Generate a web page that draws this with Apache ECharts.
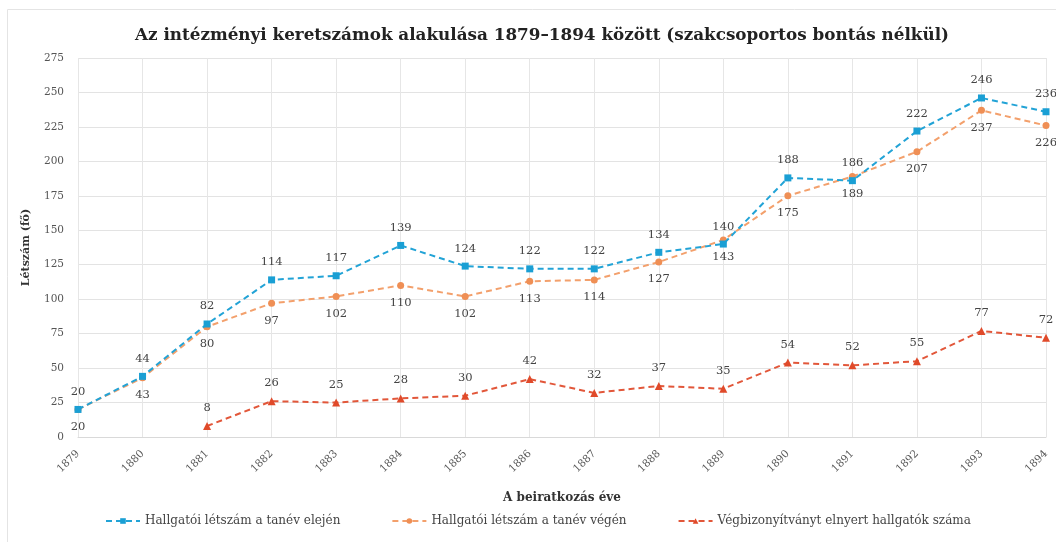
<!DOCTYPE html>
<html>
<head>
<meta charset="utf-8">
<script src="https://cdn.jsdelivr.net/npm/echarts@6/dist/echarts.min.js"></script>
<style>html,body{margin:0;padding:0;background:#fff;}#c{width:1056px;height:542px;}</style>
</head>
<body>
<div id="c"></div>
<script>
const years = ['1879','1880','1881','1882','1883','1884','1885','1886','1887','1888','1889','1890','1891','1892','1893','1894'];
const startVals = [20,44,82,114,117,139,124,122,122,134,140,188,186,222,246,236];
const endVals = [20,43,80,97,102,110,102,113,114,127,143,175,189,207,237,226];
const gradVals = [null,null,8,26,25,28,30,42,32,37,35,54,52,55,77,72];
const yTicks = [0,25,50,75,100,125,150,175,200,225,250,275];
const names = ['Hallgatói létszám a tanév elején','Hallgatói létszám a tanév végén','Végbizonyítványt elnyert hallgatók száma'];

const font = "'DejaVu Serif','Liberation Serif',serif";
const chart = echarts.init(document.getElementById('c'));
const lbl = pos => ({show:true, position:pos, distance:8, color:'#444', fontFamily:font, fontSize:11.5});
chart.setOption({
  animation:false,
  textStyle:{fontFamily:font},
  title:{text:'Az intézményi keretszámok alakulása 1879–1894 között (szakcsoportos bontás nélkül)', left:130, top:22,
    textStyle:{fontFamily:font, fontSize:16.8, fontWeight:'bold', color:'#222'}},
  graphic:[{type:'rect', shape:{x:7.5,y:9.5,width:1060,height:540}, style:{fill:'none', stroke:'#e4e4e4', lineWidth:1}, silent:true}],
  grid:{left:78, right:10, top:58, bottom:105},
  legend:{bottom:10, left:100, itemGap:51, itemWidth:34, itemHeight:7,
    textStyle:{fontFamily:font, fontSize:12, color:'#444'}, data:names},
  xAxis:{type:'category', data:years, boundaryGap:false,
    name:'A beiratkozás éve', nameLocation:'middle', nameGap:55,
    nameTextStyle:{fontFamily:font, fontSize:12, fontWeight:'bold', color:'#333'},
    axisLine:{lineStyle:{color:'#d9d9d9'}}, axisTick:{show:false},
    axisLabel:{rotate:45, fontFamily:font, fontSize:10.5, color:'#555', margin:15},
    splitLine:{show:true, lineStyle:{color:'#e6e6e6'}}},
  yAxis:{type:'value', min:yTicks[0], max:yTicks[yTicks.length-1], interval:25,
    name:'Létszám (fő)', nameLocation:'middle', nameGap:46,
    nameTextStyle:{fontFamily:font, fontSize:11, fontWeight:'bold', color:'#333'},
    axisLine:{show:false}, axisTick:{show:false},
    axisLabel:{fontFamily:font, fontSize:10.5, color:'#555', margin:14},
    splitLine:{lineStyle:{color:'#e3e3e3'}}},
  series:[
    {name:names[0], type:'line', data:startVals, symbol:'rect', symbolSize:7,
      lineStyle:{color:'#22a3d6', width:2, type:[6,4]}, itemStyle:{color:'#1a9fd4'}, label:lbl('top'), z:3},
    {name:names[1], type:'line', data:endVals, symbol:'circle', symbolSize:7,
      lineStyle:{color:'#f3a06c', width:2, type:[6,4]}, itemStyle:{color:'#ef8f55'}, label:lbl('bottom'), z:2},
    {name:names[2], type:'line', data:gradVals, symbol:'triangle', symbolSize:8,
      lineStyle:{color:'#e2573a', width:2, type:[6,4]}, itemStyle:{color:'#e04a2a'}, label:lbl('top'), z:2}
  ]
});
</script>
</body>
</html>
